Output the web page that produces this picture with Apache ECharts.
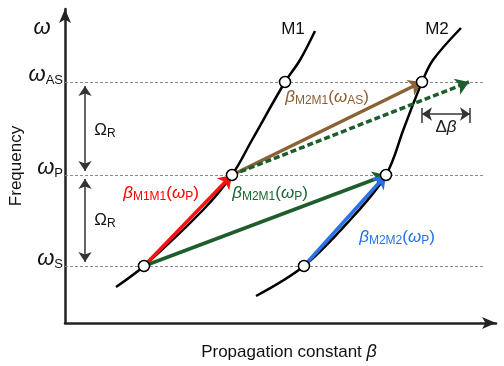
<!DOCTYPE html>
<html><head><meta charset="utf-8">
<script src="https://cdn.jsdelivr.net/npm/echarts@6/dist/echarts.min.js"></script>
<style>html,body{margin:0;padding:0;background:#fff}#c{width:504px;height:366px}</style>
</head><body><div id="c"></div>
<script>
// Frequency levels (tick labels on the ω axis)
const freqNames = ['S', 'P', 'AS'];
const freqLevels = [57, 148, 241];
// Dispersion curves: [β, ω]
const m1Curve = [[51,36],[79,57],[138,113],[167,148],[187,183],[220,241],[235,263],[250,292]];
const m2Curve = [[191,27],[239,57],[285,103],[321,148],[339,195],[357,241],[368,263],[396,295]];
// Marked points on the curves
const m1Points = [[79,57],[167,148],[220,241]];
const m2Points = [[239,57],[321,148],[357,241]];
// Propagation-constant vectors: [from, to]
const arrowRed = [[79,57],[167,148]];
const arrowGreen = [[79,57],[321,148]];
const arrowBlue = [[239,57],[321,148]];
const arrowBrown = [[167,148],[357,241]];
const arrowDashed = [[167,148],[404,241]];
// Raman shift double arrows (β position, ω from, ω to)
const omegaRArrows = [[[20,237],[20,152]], [[20,144],[20,61]]];
// Δβ mismatch marker
const deltaBeta = [[357,209],[405,209]];
const deltaBars = [[[357,200],[357,215]], [[405,200],[405,215]]];
// Dashed level lines extent along β
const dashExtent = [0, 418];
// Text annotations: [β, ω, text]
const curveNames = [[228,294,'M1'],[372,294,'M2']];
const ramanLabels = [[40,193],[40,103]];
const betaLabels = [
  {pos:[262,226], sub:'M2M1', w:'AS', color:'#8b5e34'},
  {pos:[96,130],  sub:'M1M1', w:'P',  color:'#ff0000'},
  {pos:[205,130], sub:'M2M1', w:'P',  color:'#1a6630'},
  {pos:[332,86],  sub:'M2M2', w:'P',  color:'#2273ea'}
];

const FONT = '"Liberation Sans", Arial, sans-serif';
const chart = echarts.init(document.getElementById('c'), null, {renderer:'canvas'});

const subRich = {
  g: {fontSize:17, fontStyle:'italic', lineHeight:20, fontFamily:FONT, textBorderWidth:0},
  p: {fontSize:17, lineHeight:20, fontFamily:FONT, textBorderWidth:0},
  s: {fontSize:12, lineHeight:14, verticalAlign:'bottom', fontFamily:FONT, textBorderWidth:0}
};

function arrowSeries(coords, color, type, width) {
  return {
    type:'lines', coordinateSystem:'cartesian2d', polyline:false, silent:true, z:4,
    symbol:['none','arrow'], symbolSize:13,
    lineStyle:{color:color, width:width || 3.5, type:type || 'solid', opacity:1},
    data:[{coords:coords}]
  };
}

const labelData = [];
curveNames.forEach(c => labelData.push({value:[c[0],c[1]], label:{formatter:c[2], color:'#111', fontSize:17}}));
ramanLabels.forEach(r => labelData.push({value:r, label:{formatter:'{p|Ω}{s|R}', color:'#111'}}));
betaLabels.forEach(b => labelData.push({value:b.pos, label:{formatter:'{g|β}{s|'+b.sub+'}{p|(}{g|ω}{s|'+b.w+'}{p|)}', color:b.color}}));
labelData.push({value:[(deltaBeta[0][0]+deltaBeta[1][0])/2, 196], label:{formatter:'{p|Δ}{g|β}', color:'#222'}});
labelData.push({value:[-23, 295], label:{formatter:'{big|ω}', color:'#111'}});

const option = {
  animation:false,
  backgroundColor:'#fff',
  grid:{left:65, right:8, top:9, bottom:43, outerBoundsMode:'none', containLabel:false},
  xAxis:{
    type:'value', min:0, max:431,
    splitLine:{show:false}, axisTick:{show:false}, axisLabel:{show:false},
    axisLine:{show:true, symbol:['none','arrow'], symbolSize:[9,14], lineStyle:{color:'#222', width:2.5}},
    name:'{t|Propagation constant }{b|β}', nameLocation:'middle', nameGap:20,
    nameTextStyle:{padding:[0,0,0,17], rich:{t:{fontSize:17, color:'#111', fontFamily:FONT}, b:{fontSize:18, fontStyle:'italic', color:'#111', fontFamily:FONT}}}
  },
  yAxis:{
    type:'value', min:0, max:314,
    splitLine:{show:false}, axisTick:{show:false},
    axisLine:{show:true, symbol:['none','arrow'], symbolSize:[9,14], lineStyle:{color:'#222', width:2.5}},
    axisLabel:{
      show:true, customValues:freqLevels, margin:2, padding:[0,0,14,0],
      formatter:function(v){ const i = freqLevels.indexOf(v); return '{w|ω}{s|'+freqNames[i]+'}'; },
      rich:{
        w:{fontSize:22, fontStyle:'italic', lineHeight:24, color:'#111', fontFamily:FONT},
        s:{fontSize:13, lineHeight:16, verticalAlign:'bottom', color:'#111', fontFamily:FONT}
      }
    },
    name:'Frequency', nameLocation:'middle', nameGap:40, nameMoveOverlap:false,
    nameTextStyle:{fontSize:17, color:'#111', fontFamily:FONT}
  },
  series:[
    {
      type:'lines', coordinateSystem:'cartesian2d', silent:true, z:1,
      lineStyle:{color:'#8a8a8a', width:1, type:[3,2], opacity:1},
      data:freqLevels.map(f => ({coords:[[dashExtent[0],f],[dashExtent[1],f]]}))
    },
    {type:'line', data:m1Curve, smooth:0.35, showSymbol:false, silent:true, z:2, lineStyle:{color:'#000', width:2.5}},
    {type:'line', data:m2Curve, smooth:0.35, showSymbol:false, silent:true, z:2, lineStyle:{color:'#000', width:2.5}},
    arrowSeries(arrowGreen, '#1d5e2c'),
    arrowSeries(arrowRed, '#ff1010'),
    arrowSeries(arrowBlue, '#2a72e6'),
    arrowSeries(arrowBrown, '#8b6236'),
    arrowSeries(arrowDashed, '#1d5e2c', [6,3], 3.5),
    {
      type:'lines', coordinateSystem:'cartesian2d', polyline:false, silent:true, z:3,
      symbol:['arrow','arrow'], symbolSize:10,
      lineStyle:{color:'#333', width:1.5, opacity:1},
      data:omegaRArrows.map(c => ({coords:c})).concat([{coords:deltaBeta}])
    },
    {
      type:'lines', coordinateSystem:'cartesian2d', silent:true, z:3,
      lineStyle:{color:'#333', width:1.5, opacity:1},
      data:deltaBars.map(c => ({coords:c}))
    },
    {
      type:'scatter', silent:true, z:10, symbol:'circle', symbolSize:11,
      itemStyle:{color:'#fff', borderColor:'#000', borderWidth:1.5, opacity:1},
      data:m1Points.concat(m2Points)
    },
    {
      type:'scatter', silent:true, z:11, symbolSize:0, clip:false,
      itemStyle:{opacity:1, color:'transparent'},
      label:{show:true, position:'inside', fontFamily:FONT, textBorderWidth:0, opacity:1,
        rich:Object.assign({big:{fontSize:22, fontStyle:'italic', fontFamily:FONT, textBorderWidth:0}}, subRich)},
      data:labelData
    }
  ]
};
chart.setOption(option);
</script></body></html>
